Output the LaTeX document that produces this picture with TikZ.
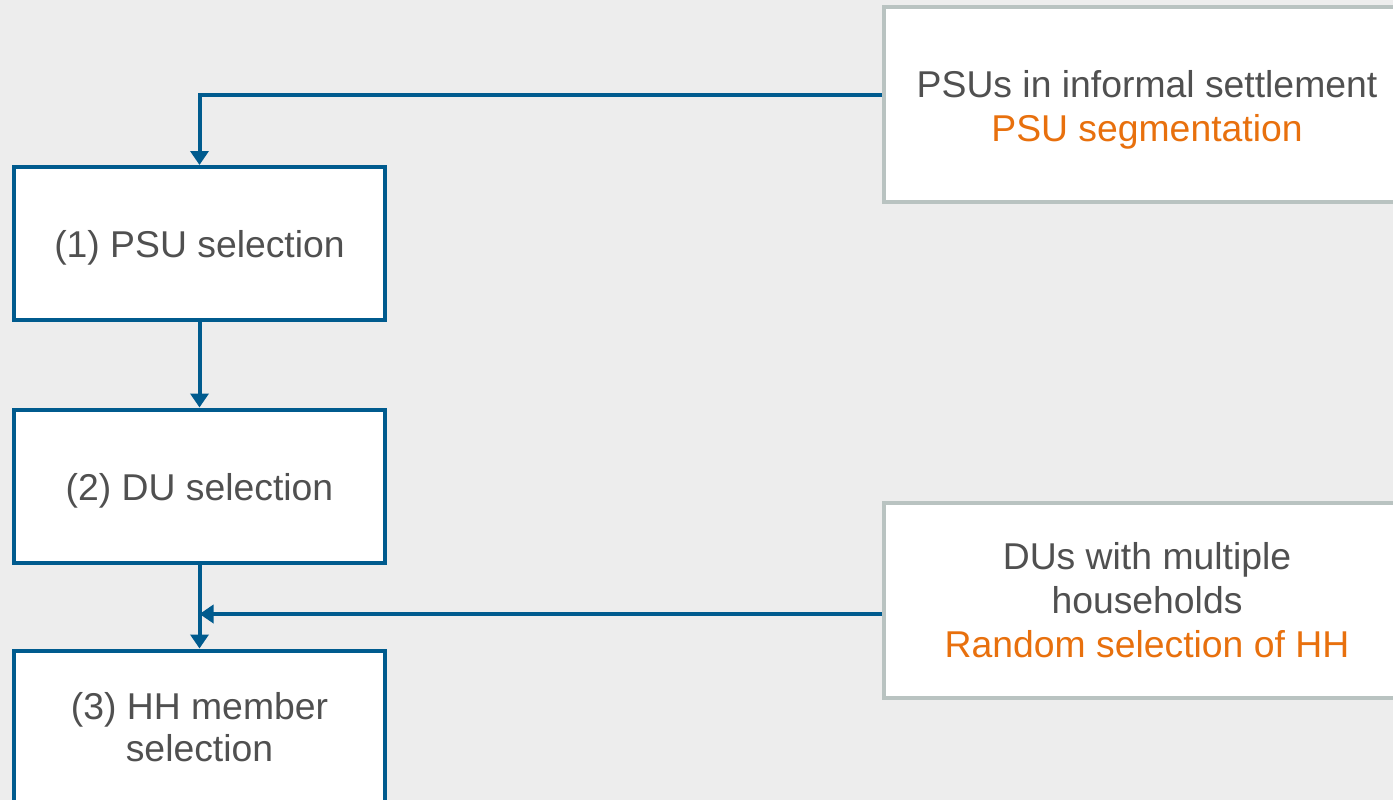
\documentclass[tikz,border=0pt]{standalone}
\usepackage{fontspec}
\setmainfont{Liberation Sans}
\usetikzlibrary{arrows.meta}
\definecolor{bgc}{HTML}{EDEDED}
\definecolor{flowblue}{HTML}{005B8E}
\definecolor{boxgrey}{HTML}{B9C3C1}
\definecolor{txtgrey}{HTML}{505050}
\definecolor{accent}{HTML}{E8700D}
% lower a line of text by a few points while keeping its box size
\newcommand{\dropline}[2]{\raisebox{-#1}[\height][\depth]{#2}}
\tikzset{
  x=0.75pt, y=-0.75pt,
  stagebox/.style={draw=flowblue, line width=3pt, fill=white, minimum width=371*0.75pt, minimum height=153*0.75pt, inner sep=0pt, align=center, text=txtgrey, font=\fontsize{28}{31}\selectfont},
  notebox/.style={draw=boxgrey, line width=3pt, fill=white, minimum width=526*0.75pt, minimum height=195*0.75pt, inner sep=0pt, align=center, text=txtgrey, font=\fontsize{28}{33}\selectfont},
  flow/.style={draw=flowblue, line width=3pt, -{Triangle[length=10.5pt, width=13.5pt]}},
}
\begin{document}
\begin{tikzpicture}
\fill[bgc] (0,0) rectangle (1393,800);
\useasboundingbox (0,0) rectangle (1393,800);
\node[stagebox] (psu) at (199.5,243.5) {\dropline{3pt}{(1) PSU selection}};
\node[stagebox] (du) at (199.5,486) {\dropline{3.5pt}{(2) DU selection}};
\node[stagebox] (hh) at (199.5,727) {(3) HH member\\selection};
\node[notebox] (seg) at (1147,104.5) {\dropline{4pt}{PSUs in informal settlement}\\\dropline{4pt}{\textcolor{accent}{PSU segmentation}}};
\node[notebox] (multi) at (1147,600) {DUs with multiple\\households\\\textcolor{accent}{Random selection of HH}};
\coordinate (bend) at (psu.north |- 0,95);
\coordinate (join) at (psu.south |- 0,614);
\draw[flow] (seg.west |- 0,95) -- (bend) -- (psu.north);
\draw[flow] (psu.south) -- (du.north);
\draw[flow] (du.south) -- (hh.north);
\draw[flow] (multi.west |- 0,614) -- (join);
\end{tikzpicture}
\end{document}
